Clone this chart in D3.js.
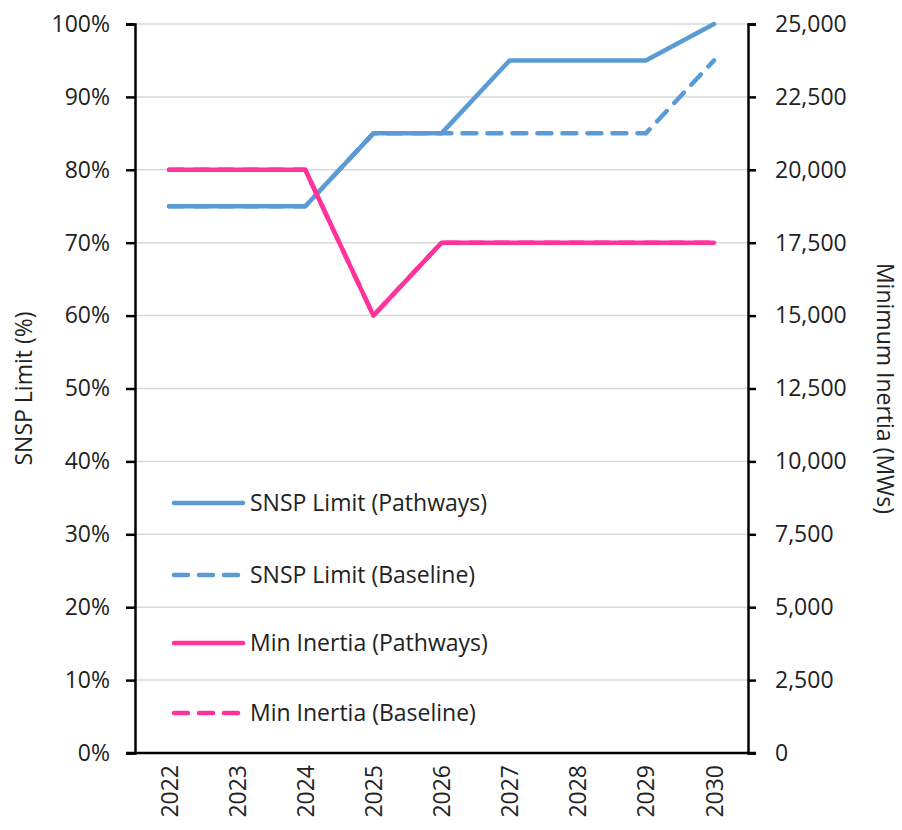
<!DOCTYPE html>
<html>
<head>
<meta charset="utf-8">
<script src="https://cdn.jsdelivr.net/npm/d3@7"></script>
<style>
  body { margin: 0; background: #fff; }
  text { font-family: "Open Sans", "Noto Sans", sans-serif; fill: #222; }
</style>
</head>
<body>
<svg></svg>
<script>
const years = [2022, 2023, 2024, 2025, 2026, 2027, 2028, 2029, 2030];
const snspPathways = [75, 75, 75, 85, 85, 95, 95, 95, 100];
const snspBaseline = [75, 75, 75, 85, 85, 85, 85, 85, 95];
const inertiaPathways = [20000, 20000, 20000, 15000, 17500, 17500, 17500, 17500, 17500];
const inertiaBaseline = [20000, 20000, 20000, 15000, 17500, 17500, 17500, 17500, 17500];
const leftTicks = [0, 10, 20, 30, 40, 50, 60, 70, 80, 90, 100];
const rightTicks = [0, 2500, 5000, 7500, 10000, 12500, 15000, 17500, 20000, 22500, 25000];

const blue = "#5b9bd5";
const pink = "#ff3399";
const fontSize = 23;

const width = 902, height = 830;
const margin = {left: 135, right: 154, top: 24, bottom: 77};

const svg = d3.select("svg").attr("width", width).attr("height", height);

const x = d3.scalePoint().domain(years).range([margin.left, width - margin.right]).padding(0.5);
const yL = d3.scaleLinear().domain([0, 100]).range([height - margin.bottom, margin.top]);
const yR = d3.scaleLinear().domain([0, 25000]).range([height - margin.bottom, margin.top]);

// gridlines
svg.append("g")
    .selectAll("line")
    .data(leftTicks.slice(1))
    .join("line")
    .attr("x1", margin.left).attr("x2", width - margin.right)
    .attr("y1", d => yL(d)).attr("y2", d => yL(d))
    .attr("stroke", "#d9d9d9").attr("stroke-width", 1.5);

// left axis
const gL = svg.append("g")
    .attr("transform", `translate(${margin.left},0)`)
    .call(d3.axisLeft(yL).tickValues(leftTicks).tickFormat(d => d + "%").tickSize(9).tickPadding(16));
// right axis
const gR = svg.append("g")
    .attr("transform", `translate(${width - margin.right},0)`)
    .call(d3.axisRight(yR).tickValues(rightTicks).tickFormat(d3.format(",")).tickSize(8).tickPadding(19));
// bottom axis
const gB = svg.append("g")
    .attr("transform", `translate(0,${height - margin.bottom})`)
    .call(d3.axisBottom(x).tickSize(0).tickPadding(0));

[gL, gR, gB].forEach(g => {
    g.select(".domain").attr("stroke", "#000").attr("stroke-width", 2.5);
    g.selectAll(".tick line").attr("stroke", "#000").attr("stroke-width", 2.5);
    g.selectAll("text").attr("font-size", fontSize).attr("fill", "#222")
        .attr("font-family", "'Open Sans', 'Noto Sans', sans-serif");
});
gB.select(".domain").attr("d", `M${margin.left - 9},0H${width - margin.right + 8}`);
gB.selectAll(".tick text")
    .attr("transform", "rotate(-90)")
    .attr("text-anchor", "end")
    .attr("dy", "0.35em")
    .attr("x", -12).attr("y", 0);

// axis titles
svg.append("text")
    .attr("transform", `translate(32,${(margin.top + height - margin.bottom) / 2}) rotate(-90)`)
    .attr("text-anchor", "middle").attr("font-size", fontSize)
    .text("SNSP Limit (%)");
svg.append("text")
    .attr("transform", `translate(877,${(margin.top + height - margin.bottom) / 2}) rotate(90)`)
    .attr("text-anchor", "middle").attr("font-size", fontSize)
    .text("Minimum Inertia (MWs)");

// series
const series = [
    {name: "SNSP Limit (Pathways)", values: snspPathways, scale: yL, color: blue, dash: null},
    {name: "SNSP Limit (Baseline)", values: snspBaseline, scale: yL, color: blue, dash: "14,11"},
    {name: "Min Inertia (Pathways)", values: inertiaPathways, scale: yR, color: pink, dash: null},
    {name: "Min Inertia (Baseline)", values: inertiaBaseline, scale: yR, color: pink, dash: "14,11"},
];

const drawOrder = [1, 0, 3, 2];
drawOrder.forEach(i => {
    const s = series[i];
    const line = d3.line().x((d, j) => x(years[j])).y(d => s.scale(d));
    svg.append("path")
        .datum(s.values)
        .attr("d", line)
        .attr("fill", "none")
        .attr("stroke", s.color)
        .attr("stroke-width", 4.5)
        .attr("stroke-linecap", "round")
        .attr("stroke-linejoin", "round")
        .attr("stroke-dasharray", s.dash);
});

// legend
const legendY = [503, 575, 643, 713];
const legend = svg.append("g");
series.forEach((s, i) => {
    const g = legend.append("g").attr("transform", `translate(0,${legendY[i]})`);
    g.append("line")
        .attr("x1", 174).attr("x2", 243)
        .attr("stroke", s.color).attr("stroke-width", 4.5)
        .attr("stroke-linecap", "round")
        .attr("stroke-dasharray", s.dash ? "14,11" : null);
    g.append("text")
        .attr("x", 250).attr("dy", "0.35em")
        .attr("font-size", fontSize)
        .text(s.name);
});
</script>
</body>
</html>
